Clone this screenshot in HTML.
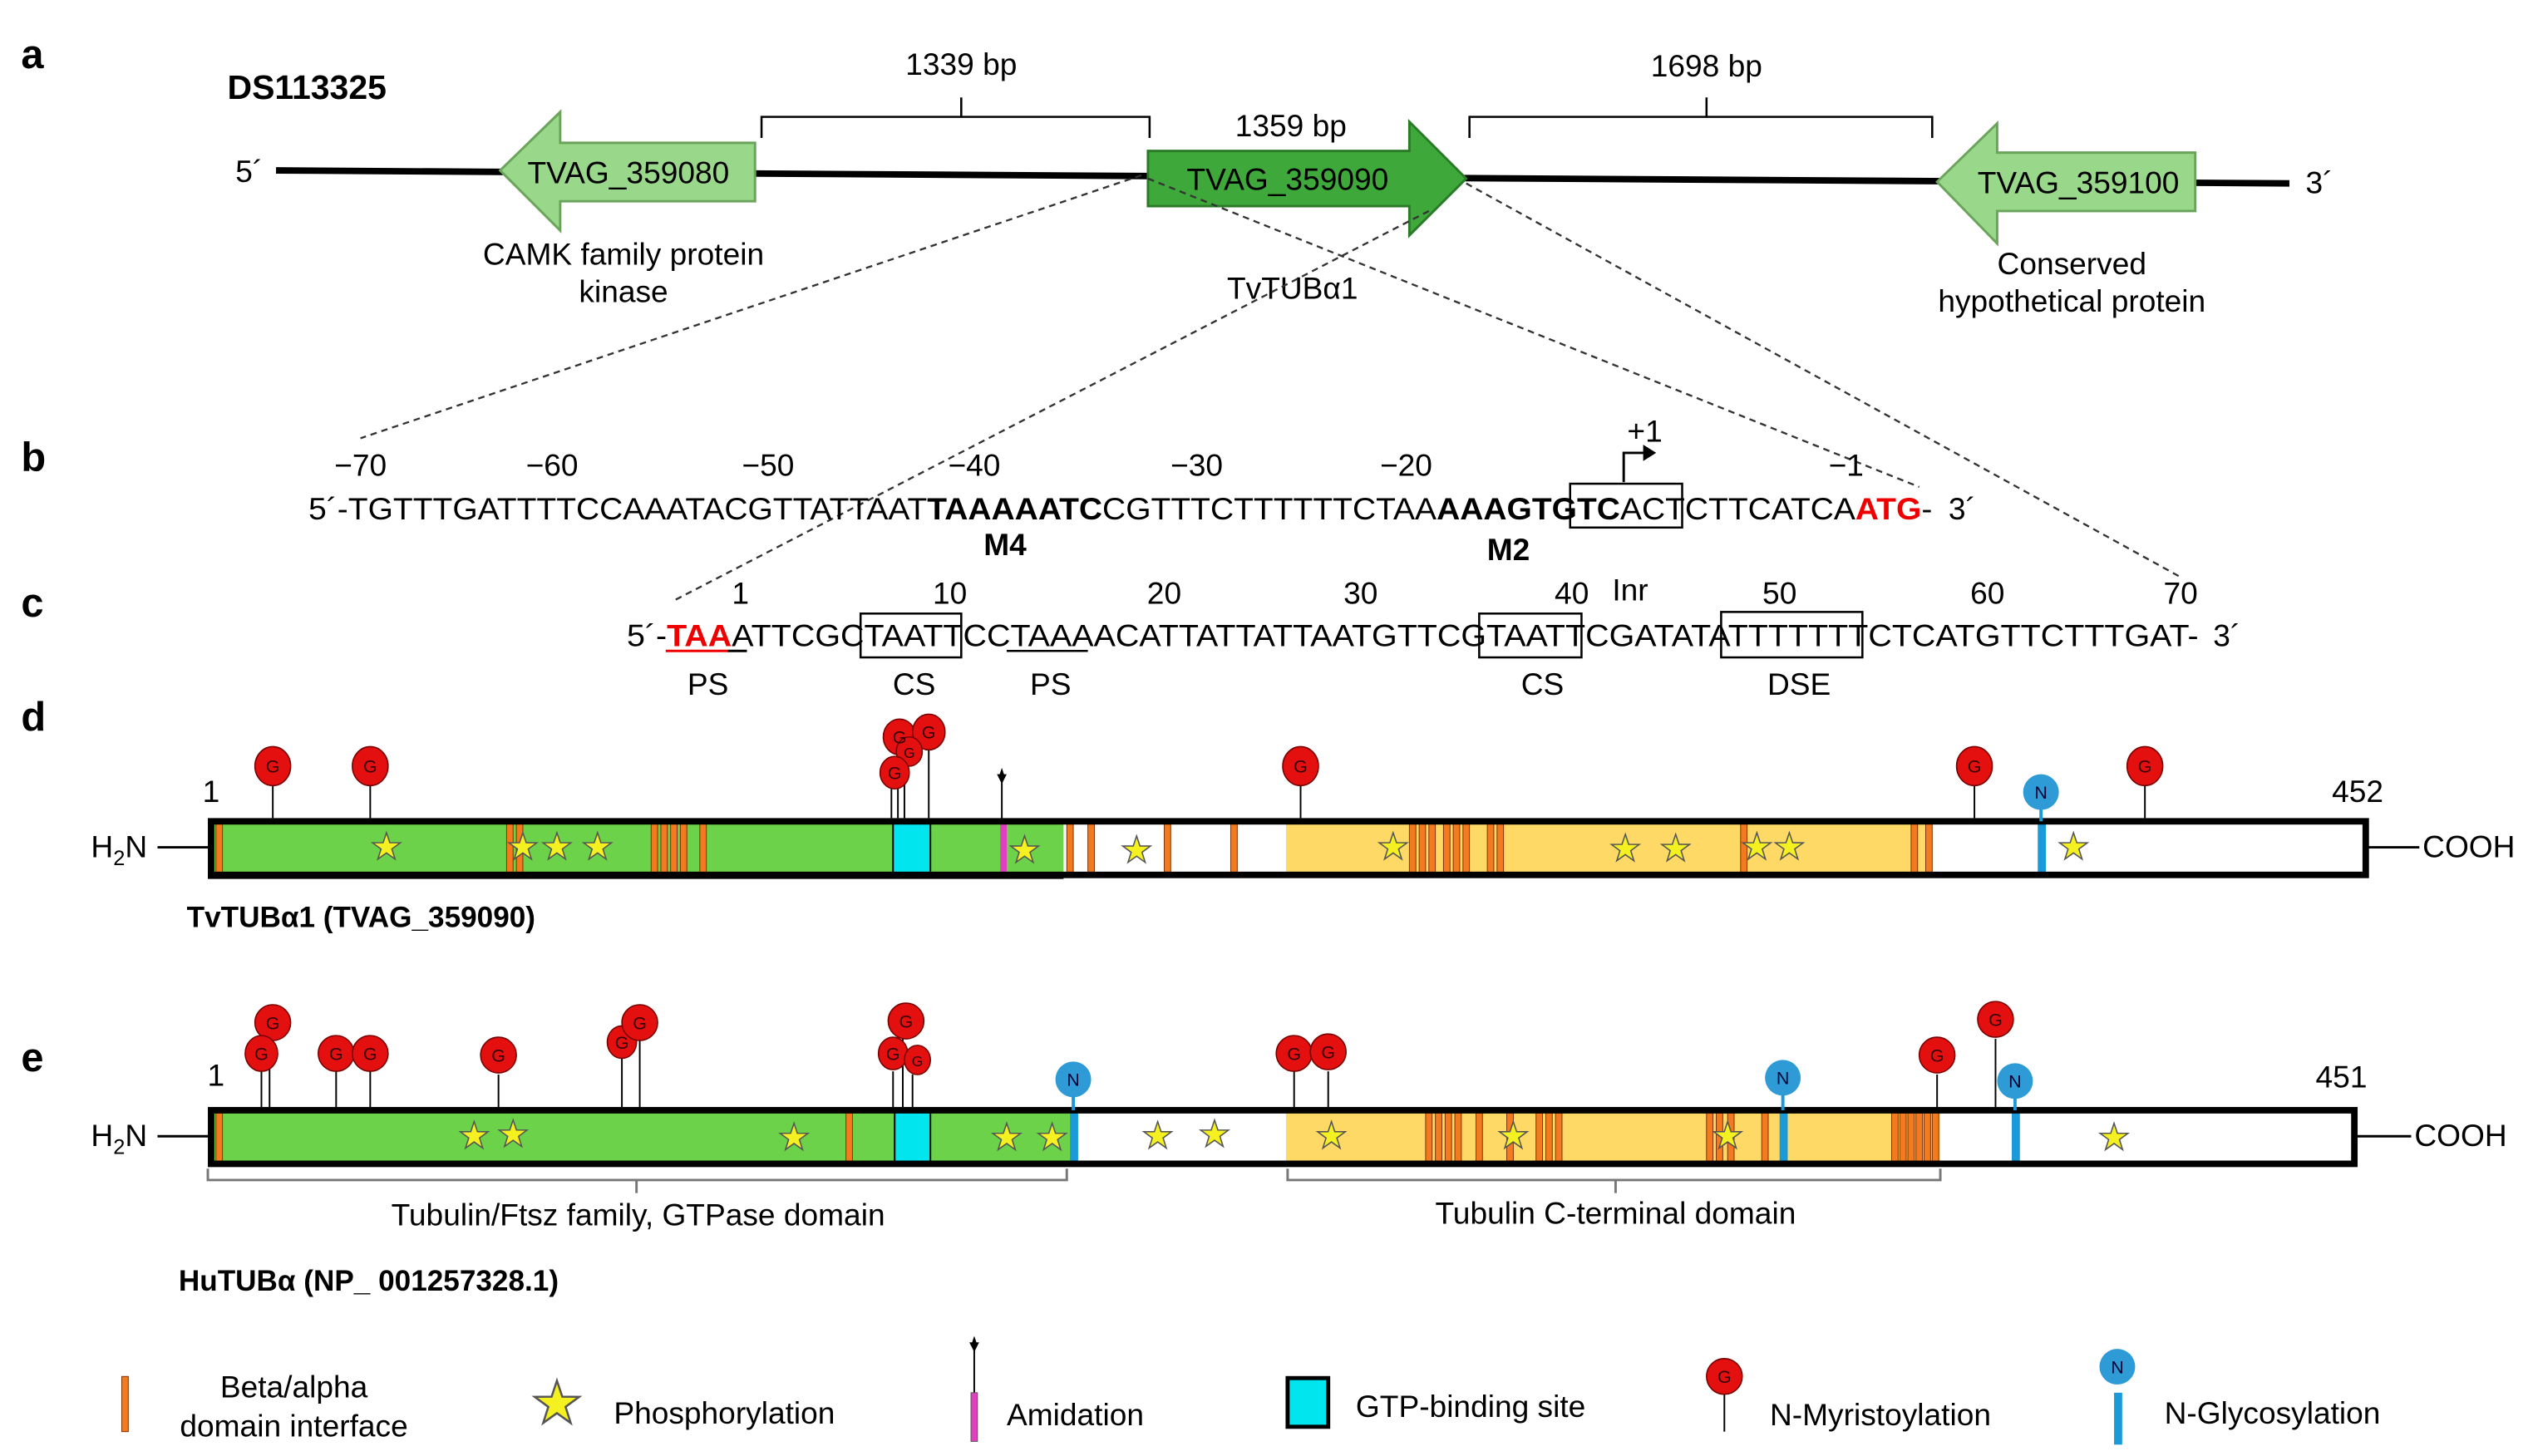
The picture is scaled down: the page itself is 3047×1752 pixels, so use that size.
<!DOCTYPE html>
<html><head><meta charset="utf-8"><style>html,body{margin:0;padding:0;background:#fff}svg{display:block}</style></head>
<body>
<svg width="3047" height="1752" viewBox="0 0 1560 897" xmlns="http://www.w3.org/2000/svg" font-family="Liberation Sans, Arial, sans-serif" font-size="19">
<defs>
<path id="st" d="M0,-9 L2.06,-2.83 L8.56,-2.78 L3.33,1.08 L5.29,7.28 L0,3.5 L-5.29,7.28 L-3.33,1.08 L-8.56,-2.78 L-2.06,-2.83Z" fill="#f5f020" stroke="#555" stroke-width="0.8"/>
</defs>
<rect width="1560" height="897" fill="#fff"/>
<g font-weight="bold" font-size="25">
<text x="13" y="42">a</text><text x="13" y="290">b</text><text x="13" y="380">c</text><text x="13" y="450">d</text><text x="13" y="660">e</text>
</g>
<text x="140" y="61" font-weight="bold" font-size="21">DS113325</text>
<line x1="170" y1="105" x2="1410" y2="113" stroke="#000" stroke-width="4"/>
<text x="145" y="112">5´</text><text x="1420" y="119">3´</text>
<polygon points="308,105 345,69 345,88 465,88 465,124 345,124 345,142" fill="#99d78a" stroke="#6aa45a" stroke-width="1.5"/>
<text x="387" y="113" text-anchor="middle">TVAG_359080</text>
<polygon points="707,93 868,93 868,75 903,110 868,145 868,127 707,127" fill="#3ea83a" stroke="#2a7a28" stroke-width="1.5"/>
<text x="793" y="117" text-anchor="middle">TVAG_359090</text>
<polygon points="1193,112 1230,76 1230,94 1352,94 1352,130 1230,130 1230,150" fill="#99d78a" stroke="#6aa45a" stroke-width="1.5"/>
<text x="1280" y="119" text-anchor="middle">TVAG_359100</text>
<path d="M469,85 V72 H592 V60 M592,72 H708 V85" fill="none" stroke="#000" stroke-width="1.3"/>
<path d="M905,85 V72 H1051 V60 M1051,72 H1190 V85" fill="none" stroke="#000" stroke-width="1.3"/>
<text x="592" y="46" text-anchor="middle">1339 bp</text>
<text x="1051" y="47" text-anchor="middle">1698 bp</text>
<text x="795" y="84" text-anchor="middle">1359 bp</text>
<text x="384" y="163" text-anchor="middle">CAMK family protein</text>
<text x="384" y="186" text-anchor="middle">kinase</text>
<text x="796" y="184" text-anchor="middle">TvTUBα1</text>
<text x="1276" y="169" text-anchor="middle">Conserved</text>
<text x="1276" y="192" text-anchor="middle">hypothetical protein</text>
<g stroke="#333" stroke-width="1.2" stroke-dasharray="4,3" fill="none">
<line x1="703" y1="108" x2="222" y2="270"/>
<line x1="707" y1="110" x2="1182" y2="300"/>
<line x1="880" y1="130" x2="415" y2="370"/>
<line x1="903" y1="113" x2="1342" y2="355"/>
</g>
<g text-anchor="middle">
<text x="222" y="293">−70</text><text x="340" y="293">−60</text><text x="473" y="293">−50</text><text x="600" y="293">−40</text><text x="737" y="293">−30</text><text x="866" y="293">−20</text><text x="1137" y="293">−1</text>
<text x="1013" y="272">+1</text>
</g>
<path d="M1000,297 V279 H1014" fill="none" stroke="#000" stroke-width="1.5"/>
<polygon points="1020,279 1012,274 1012,284" fill="#000"/>
<text x="190" y="320" textLength="1000" lengthAdjust="spacingAndGlyphs">5´-TGTTTGATTTTCCAAATACGTTATTAAT<tspan font-weight="bold">TAAAAATC</tspan>CGTTTCTTTTTTCTAA<tspan font-weight="bold">AAAGTGTC</tspan>ACTCTTCATCA<tspan font-weight="bold" fill="#e00">ATG</tspan>-</text>
<text x="1200" y="320">3´</text>
<rect x="967" y="298" width="69" height="27" fill="none" stroke="#000" stroke-width="1.3"/>
<text x="619" y="342" font-weight="bold" text-anchor="middle">M4</text>
<text x="929" y="345" font-weight="bold" text-anchor="middle">M2</text>
<g text-anchor="middle">
<text x="456" y="372">1</text><text x="585" y="372">10</text><text x="717" y="372">20</text><text x="838" y="372">30</text><text x="968" y="372">40</text><text x="1004" y="370">Inr</text><text x="1096" y="372">50</text><text x="1224" y="372">60</text><text x="1343" y="372">70</text>
</g>
<text x="386" y="398" textLength="968" lengthAdjust="spacingAndGlyphs">5´-<tspan font-weight="bold" fill="#e00">TAA</tspan>ATTCGCTAATTCCTAAAACATTATTATTAATGTTCGTAATTCGATATATTTTTTTCTCATGTTCTTTGAT-</text>
<text x="1363" y="398">3´</text>
<line x1="410" y1="401" x2="448" y2="401" stroke="#e00" stroke-width="1.5"/>
<line x1="448" y1="401" x2="460" y2="401" stroke="#000" stroke-width="1.5"/>
<line x1="620" y1="401" x2="670" y2="401" stroke="#000" stroke-width="1.3"/>
<g fill="none" stroke="#000" stroke-width="1.3">
<rect x="530" y="378" width="62" height="27"/><rect x="911" y="378" width="63" height="27"/><rect x="1060" y="377" width="87" height="28"/>
</g>
<g text-anchor="middle">
<text x="436" y="428">PS</text><text x="563" y="428">CS</text><text x="647" y="428">PS</text><text x="950" y="428">CS</text><text x="1108" y="428">DSE</text>
</g>
<text x="130" y="494" text-anchor="middle">1</text><text x="1452" y="494" text-anchor="middle">452</text>
<text x="56" y="528">H<tspan font-size="13" dy="5">2</tspan><tspan dy="-5">N</tspan></text>
<line x1="97" y1="522" x2="128" y2="522" stroke="#000" stroke-width="1.5"/>
<line x1="1457" y1="522" x2="1490" y2="522" stroke="#000" stroke-width="1.5"/>
<text x="1492" y="528">COOH</text>
<rect x="130" y="506" width="525" height="33" fill="#6cd24a"/>
<rect x="655" y="506" width="137" height="33" fill="#fff"/>
<rect x="792" y="506" width="398" height="33" fill="#ffd966"/>
<rect x="1190" y="506" width="267" height="33" fill="#fff"/>
<rect x="550" y="506" width="23" height="33" fill="#00e5ee" stroke="#000" stroke-width="1"/>
<rect x="616" y="506" width="4" height="33" fill="#e040c0"/>
<g fill="#f47a20" stroke="#7a3000" stroke-width="0.5">
<rect x="133" y="506" width="4" height="33"/><rect x="312" y="506" width="4" height="33"/><rect x="318" y="506" width="4" height="33"/>
<rect x="401" y="506" width="4" height="33"/><rect x="407" y="506" width="4" height="33"/><rect x="413" y="506" width="4" height="33"/><rect x="419" y="506" width="4" height="33"/><rect x="431" y="506" width="4" height="33"/>
<rect x="657" y="506" width="4" height="33"/><rect x="670" y="506" width="4" height="33"/><rect x="717" y="506" width="4" height="33"/><rect x="758" y="506" width="4" height="33"/>
<rect x="868" y="506" width="4" height="33"/><rect x="874" y="506" width="4" height="33"/><rect x="880" y="506" width="4" height="33"/><rect x="889" y="506" width="4" height="33"/><rect x="895" y="506" width="4" height="33"/><rect x="901" y="506" width="4" height="33"/><rect x="916" y="506" width="4" height="33"/><rect x="922" y="506" width="4" height="33"/>
<rect x="1072" y="506" width="4" height="33"/><rect x="1177" y="506" width="4" height="33"/><rect x="1186" y="506" width="4" height="33"/>
</g>
<rect x="1255" y="506" width="5" height="33" fill="#1a9ad8"/>
<rect x="130" y="506" width="1327" height="33" fill="none" stroke="#000" stroke-width="4"/>
<line x1="128" y1="540" x2="655" y2="540" stroke="#000" stroke-width="3"/>
<g>
<use href="#st" x="238" y="522"/><use href="#st" x="322" y="522"/><use href="#st" x="343" y="522"/><use href="#st" x="368" y="522"/><use href="#st" x="631" y="524"/><use href="#st" x="700" y="524"/><use href="#st" x="858" y="522"/><use href="#st" x="1001" y="523"/><use href="#st" x="1032" y="523"/><use href="#st" x="1082" y="522"/><use href="#st" x="1102" y="522"/><use href="#st" x="1277" y="522"/>
</g>
<g stroke="#000" stroke-width="1">
<line x1="168" y1="484" x2="168" y2="504"/><line x1="228" y1="484" x2="228" y2="504"/>
<line x1="549" y1="486" x2="549" y2="504"/><line x1="553" y1="466" x2="553" y2="504"/><line x1="557" y1="476" x2="557" y2="504"/><line x1="572" y1="462" x2="572" y2="504"/>
<line x1="801" y1="484" x2="801" y2="504"/><line x1="1216" y1="484" x2="1216" y2="504"/><line x1="1321" y1="484" x2="1321" y2="504"/>
<line x1="617" y1="482" x2="617" y2="506"/>
</g>
<polygon points="617,473 619,479 615,479" fill="#000"/><polygon points="617,483 614,477 620,477" fill="#000"/>
<g fill="#e41010" stroke="#700" stroke-width="0.8">
<ellipse cx="168" cy="472" rx="11" ry="12"/><ellipse cx="228" cy="472" rx="11" ry="12"/>
<ellipse cx="554" cy="454" rx="10" ry="11"/><ellipse cx="572" cy="451" rx="10" ry="11"/><ellipse cx="560" cy="463" rx="8" ry="9"/><ellipse cx="551" cy="476" rx="9" ry="10"/>
<ellipse cx="801" cy="472" rx="11" ry="12"/><ellipse cx="1216" cy="472" rx="11" ry="12"/><ellipse cx="1321" cy="472" rx="11" ry="12"/>
</g>
<line x1="1257" y1="498" x2="1257" y2="506" stroke="#1a9ad8" stroke-width="2"/>
<ellipse cx="1257" cy="488" rx="11" ry="11" fill="#2e9bd6"/>
<g font-size="11" text-anchor="middle" fill="#300">
<text x="168" y="476">G</text><text x="228" y="476">G</text><text x="554" y="458">G</text><text x="572" y="455">G</text><text x="560" y="467" font-size="9">G</text><text x="551" y="480">G</text><text x="801" y="476">G</text><text x="1216" y="476">G</text><text x="1321" y="476">G</text>
<text x="1257" y="492" fill="#003">N</text>
</g>
<text x="115" y="571" font-weight="bold" font-size="18">TvTUBα1 (TVAG_359090)</text>
<text x="133" y="669" text-anchor="middle">1</text><text x="1442" y="670" text-anchor="middle">451</text>
<text x="56" y="706">H<tspan font-size="13" dy="5">2</tspan><tspan dy="-5">N</tspan></text>
<line x1="97" y1="700" x2="130" y2="700" stroke="#000" stroke-width="1.5"/>
<line x1="1450" y1="700" x2="1485" y2="700" stroke="#000" stroke-width="1.5"/>
<text x="1487" y="706">COOH</text>
<rect x="130" y="684" width="530" height="33" fill="#6cd24a"/>
<rect x="660" y="684" width="132" height="33" fill="#fff"/>
<rect x="792" y="684" width="403" height="33" fill="#ffd966"/>
<rect x="1195" y="684" width="255" height="33" fill="#fff"/>
<rect x="551" y="684" width="22" height="33" fill="#00e5ee" stroke="#000" stroke-width="1"/>
<g fill="#f47a20" stroke="#7a3000" stroke-width="0.5">
<rect x="133" y="684" width="4" height="33"/><rect x="521" y="684" width="4" height="33"/>
<rect x="878" y="684" width="4" height="33"/><rect x="884" y="684" width="4" height="33"/><rect x="890" y="684" width="4" height="33"/><rect x="896" y="684" width="4" height="33"/><rect x="909" y="684" width="4" height="33"/><rect x="928" y="684" width="4" height="33"/>
<rect x="946" y="684" width="4" height="33"/><rect x="952" y="684" width="4" height="33"/><rect x="958" y="684" width="4" height="33"/>
<rect x="1051" y="684" width="4" height="33"/><rect x="1057" y="684" width="4" height="33"/><rect x="1064" y="684" width="4" height="33"/><rect x="1085" y="684" width="4" height="33"/>
<rect x="1165" y="684" width="4" height="33"/><rect x="1170" y="684" width="4" height="33"/><rect x="1175" y="684" width="4" height="33"/><rect x="1180" y="684" width="4" height="33"/><rect x="1185" y="684" width="4" height="33"/><rect x="1190" y="684" width="4" height="33"/>
</g>
<g fill="#1a9ad8"><rect x="659" y="684" width="5" height="33"/><rect x="1096" y="684" width="5" height="33"/><rect x="1239" y="684" width="5" height="33"/></g>
<rect x="130" y="684" width="1320" height="33" fill="none" stroke="#000" stroke-width="4"/>
<g>
<use href="#st" x="292" y="700"/><use href="#st" x="316" y="699"/><use href="#st" x="489" y="701"/><use href="#st" x="620" y="701"/><use href="#st" x="648" y="701"/><use href="#st" x="713" y="700"/><use href="#st" x="748" y="699"/><use href="#st" x="820" y="700"/><use href="#st" x="932" y="700"/><use href="#st" x="1064" y="700"/><use href="#st" x="1302" y="701"/>
</g>
<g stroke="#000" stroke-width="1">
<line x1="161" y1="660" x2="161" y2="682"/><line x1="166" y1="640" x2="166" y2="682"/><line x1="207" y1="660" x2="207" y2="682"/><line x1="228" y1="660" x2="228" y2="682"/><line x1="307" y1="662" x2="307" y2="682"/>
<line x1="383" y1="652" x2="383" y2="682"/><line x1="394" y1="640" x2="394" y2="682"/>
<line x1="550" y1="660" x2="550" y2="682"/><line x1="556" y1="640" x2="556" y2="682"/><line x1="562" y1="662" x2="562" y2="682"/>
<line x1="797" y1="660" x2="797" y2="682"/><line x1="818" y1="660" x2="818" y2="682"/><line x1="1193" y1="662" x2="1193" y2="682"/><line x1="1229" y1="640" x2="1229" y2="682"/>
</g>
<g fill="#e41010" stroke="#700" stroke-width="0.8">
<ellipse cx="168" cy="630" rx="11" ry="11"/><ellipse cx="161" cy="649" rx="10" ry="11"/><ellipse cx="207" cy="649" rx="11" ry="11"/><ellipse cx="228" cy="649" rx="11" ry="11"/><ellipse cx="307" cy="650" rx="11" ry="11"/>
<ellipse cx="383" cy="642" rx="9" ry="10"/><ellipse cx="394" cy="630" rx="11" ry="11"/>
<ellipse cx="558" cy="629" rx="11" ry="11"/><ellipse cx="550" cy="649" rx="9" ry="10"/><ellipse cx="565" cy="653" rx="8" ry="9"/>
<ellipse cx="797" cy="649" rx="11" ry="11"/><ellipse cx="818" cy="648" rx="11" ry="11"/><ellipse cx="1193" cy="650" rx="11" ry="11"/><ellipse cx="1229" cy="628" rx="11" ry="11"/>
</g>
<g stroke="#1a9ad8" stroke-width="2"><line x1="661" y1="675" x2="661" y2="684"/><line x1="1098" y1="674" x2="1098" y2="684"/><line x1="1241" y1="676" x2="1241" y2="684"/></g>
<g fill="#2e9bd6"><ellipse cx="661" cy="665" rx="11" ry="11"/><ellipse cx="1098" cy="664" rx="11" ry="11"/><ellipse cx="1241" cy="666" rx="11" ry="11"/></g>
<g font-size="11" text-anchor="middle" fill="#300">
<text x="168" y="634">G</text><text x="161" y="653">G</text><text x="207" y="653">G</text><text x="228" y="653">G</text><text x="307" y="654">G</text><text x="383" y="646">G</text><text x="394" y="634">G</text>
<text x="558" y="633">G</text><text x="550" y="653">G</text><text x="565" y="657" font-size="9">G</text><text x="797" y="653">G</text><text x="818" y="652">G</text><text x="1193" y="654">G</text><text x="1229" y="632">G</text>
<text x="661" y="669" fill="#003">N</text><text x="1098" y="668" fill="#003">N</text><text x="1241" y="670" fill="#003">N</text>
</g>
<path d="M128,720 V727 H657 V720 M392,727 V735" fill="none" stroke="#777" stroke-width="1.5"/>
<path d="M793,720 V727 H1195 V720 M995,727 V735" fill="none" stroke="#777" stroke-width="1.5"/>
<text x="393" y="755" text-anchor="middle">Tubulin/Ftsz  family, GTPase domain</text>
<text x="995" y="754" text-anchor="middle">Tubulin  C-terminal domain</text>
<text x="110" y="795" font-weight="bold" font-size="18">HuTUBα (NP_ 001257328.1)</text>
<rect x="75" y="848" width="4" height="34" fill="#f47a20" stroke="#7a3000" stroke-width="0.5"/>
<text x="181" y="861" text-anchor="middle">Beta/alpha</text><text x="181" y="885" text-anchor="middle">domain interface</text>
<g transform="translate(343,865) scale(1.6)"><use href="#st"/></g>
<text x="378" y="877">Phosphorylation</text>
<line x1="600" y1="832" x2="600" y2="858" stroke="#000" stroke-width="1"/>
<polygon points="600,823 602,829 598,829" fill="#000"/><polygon points="600,833 597,827 603,827" fill="#000"/>
<rect x="598" y="858" width="4" height="30" fill="#e040c0" stroke="#555" stroke-width="0.5"/>
<text x="620" y="878">Amidation</text>
<rect x="793" y="849" width="25" height="30" fill="#00e5ee" stroke="#000" stroke-width="2.5"/>
<text x="835" y="873">GTP-binding site</text>
<line x1="1062" y1="859" x2="1062" y2="882" stroke="#000" stroke-width="1"/>
<ellipse cx="1062" cy="848" rx="11" ry="11" fill="#e41010" stroke="#700" stroke-width="0.8"/>
<text x="1062" y="852" font-size="11" text-anchor="middle" fill="#300">G</text>
<text x="1090" y="878">N-Myristoylation</text>
<ellipse cx="1304" cy="842" rx="11" ry="11" fill="#2e9bd6"/>
<text x="1304" y="846" font-size="11" text-anchor="middle" fill="#003">N</text>
<rect x="1302" y="858" width="5" height="32" fill="#1a9ad8"/>
<text x="1333" y="877">N-Glycosylation</text>
</svg>
</body></html>
